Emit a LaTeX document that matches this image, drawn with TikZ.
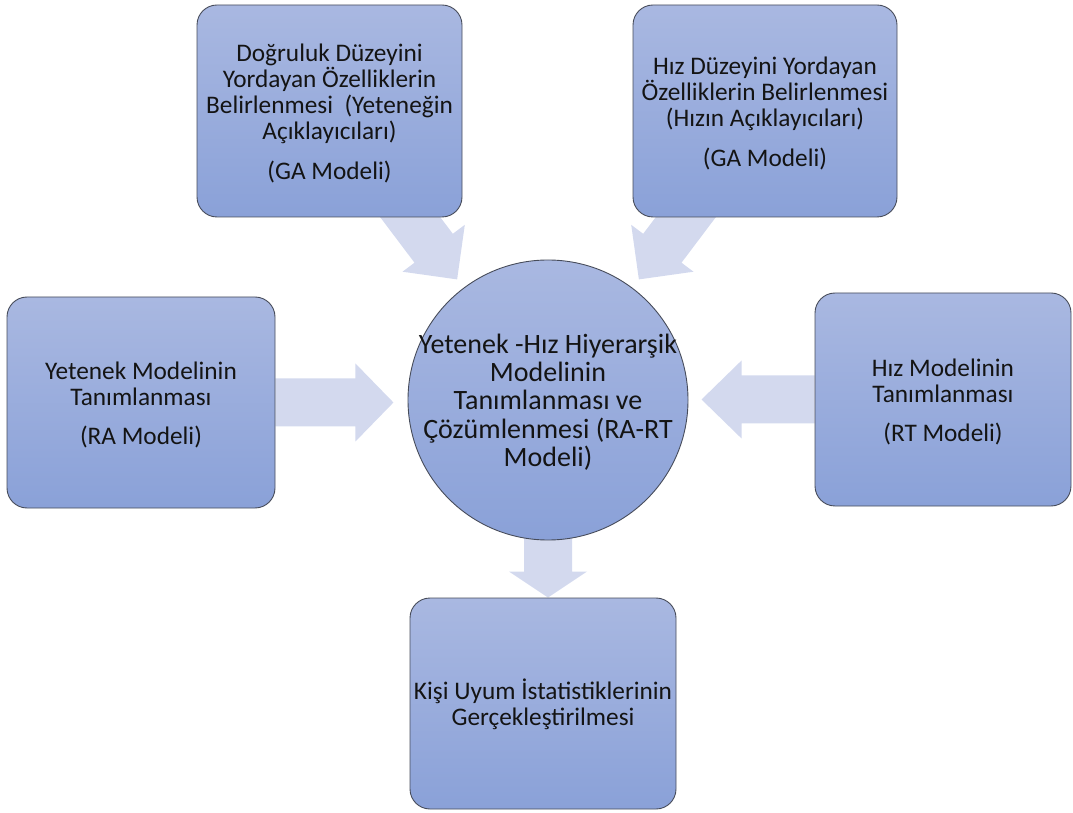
\documentclass[tikz,border=0pt]{standalone}
\usepackage{fontspec}
\setmainfont{Carlito}
\usepackage{xcolor}
\usepackage{tikz}
\usetikzlibrary{positioning,calc}
\definecolor{ink}{HTML}{141414}
\definecolor{edge}{HTML}{474C5A}
\definecolor{boxTop}{HTML}{A9B8E1}
\definecolor{boxBot}{HTML}{8AA1D8}
\definecolor{flow}{HTML}{D3D9EE}
\pgfdeclarelayer{bg}
\pgfsetlayers{bg,main}
\newcommand{\boxfont}{\fontsize{25.3}{26}\selectfont}
\newcommand{\hubfont}{\fontsize{28}{28.3}\selectfont}
\newcommand{\lift}{\rule{0pt}{23pt}}
\tikzset{
  stage/.style={rectangle, rounded corners=20pt, draw=edge, line width=0.9pt, top color=boxTop, bottom color=boxBot, minimum width=265pt, minimum height=212pt, inner sep=0pt, align=center, font=\boxfont, text=ink},
  hubnode/.style={circle, draw=edge, line width=0.9pt, top color=boxTop, bottom color=boxBot, minimum size=280pt, inner sep=0pt},
  hubtext/.style={align=center, font=\hubfont, text=ink, inner sep=0pt},
  flowarrow/.style={fill=flow},
}
% block arrow: tail, tip, head length
\newcommand{\blockarrow}[3]{%
  \coordinate (ba-a) at #1;
  \coordinate (ba-z) at #2;
  \coordinate (ba-b) at ($(ba-z)!#3!(ba-a)$);
  \fill[flowarrow] ($(ba-a)!24pt!90:(ba-z)$) -- ($(ba-b)!24pt!-90:(ba-a)$) -- ($(ba-b)!39pt!-90:(ba-a)$) -- (ba-z)
    -- ($(ba-b)!39pt!90:(ba-a)$) -- ($(ba-b)!24pt!90:(ba-a)$) -- ($(ba-a)!24pt!-90:(ba-z)$) -- cycle;
}

\begin{document}
\begin{tikzpicture}[x=1pt, y=1pt]
\useasboundingbox (0,0) rectangle (1073,812);
\node[stage] (ga1) at (329.5,701) {\lift Doğruluk Düzeyini\\Yordayan Özelliklerin\\Belirlenmesi\ \ (Yeteneğin\\Açıklayıcıları)\\[14pt](GA Modeli)};
\node[stage, minimum width=264pt] (ga2) at (765,701) {\lift Hız Düzeyini Yordayan\\Özelliklerin Belirlenmesi\\(Hızın Açıklayıcıları)\\[14pt](GA Modeli)};
\node[stage, minimum width=268pt, minimum height=211pt] (ra) at (141,409.5) {\lift Yetenek Modelinin\\Tanımlanması\\[13pt](RA Modeli)};
\node[stage, minimum width=256pt, minimum height=213pt] (rt) at (943,412.5) {\lift Hız Modelinin\\Tanımlanması\\[13pt](RT Modeli)};
\node[stage, minimum width=266pt, minimum height=211pt] (fit) at (543,108.5) {\lift Kişi Uyum İstatistiklerinin\\Gerçekleştirilmesi};
\node[hubnode] (hub) at (548,412) {};
\node[hubtext] (hubtxt) at ($(hub)+(0,-2)$) {Yetenek -Hız Hiyerarşik\\Modelinin\\Tanımlanması ve\\Çözümlenmesi (RA-RT\\Modeli)};
\begin{pgfonlayer}{bg}
\blockarrow{(ra.east)}{($(ra.east)+(118,0)$)}{38pt}
\blockarrow{(rt.west)}{($(rt.west)+(-113,0)$)}{40pt}
\blockarrow{($(hub.south)+(0,20)$)}{(hub.south |- fit.north)}{26pt}
\blockarrow{($(hub)+(127:265)$)}{($(hub)+(127:151)$)}{39pt}
\blockarrow{($(hub)+(53:265)$)}{($(hub)+(53:151)$)}{39pt}
\end{pgfonlayer}
\end{tikzpicture}
\end{document}
